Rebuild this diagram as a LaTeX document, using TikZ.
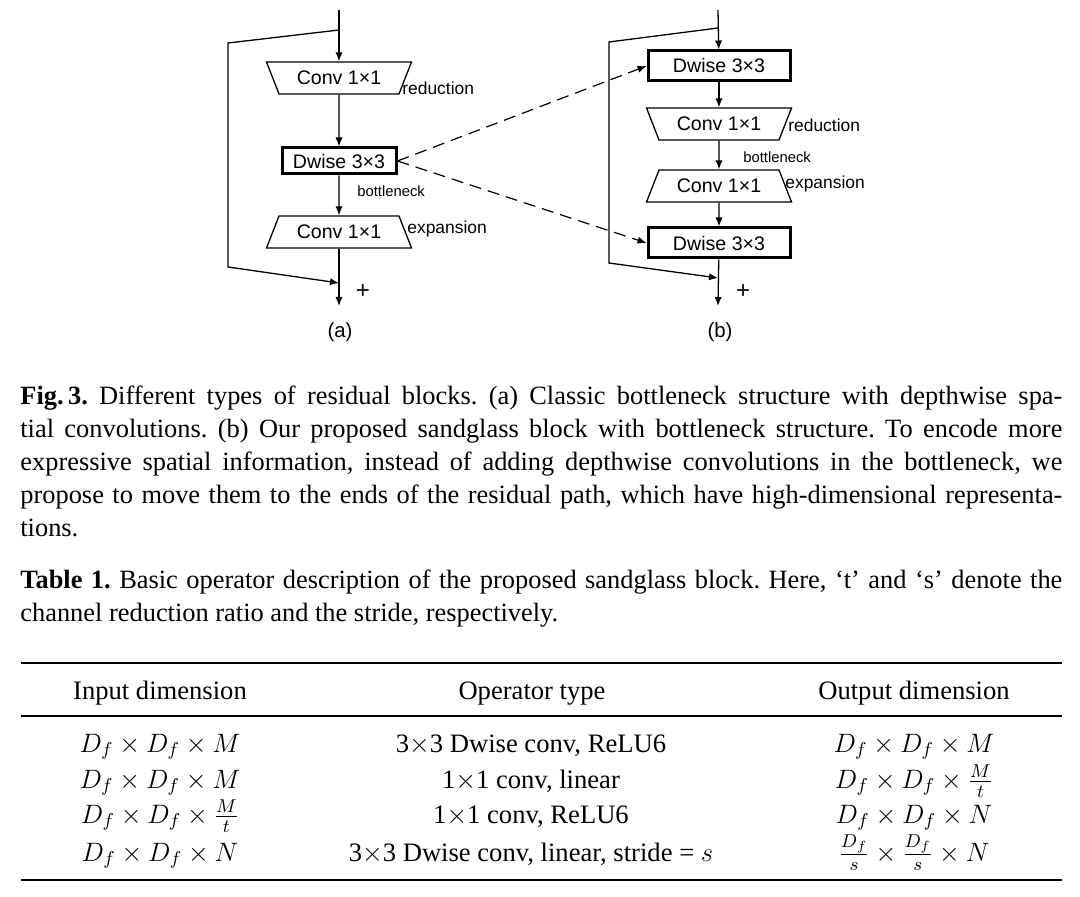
\documentclass[tikz,border=0pt]{standalone}
\usepackage{fix-cm}
\usepackage{fontspec}
\setmainfont{Liberation Serif}
\newfontfamily\diagfont{Liberation Sans}
\usetikzlibrary{arrows.meta,shapes.geometric}

\newcommand{\opfont}{\diagfont\fontsize{9.8}{11.5}\selectfont}
\newcommand{\tagfont}{\diagfont\fontsize{8.7}{10}\selectfont}
\newcommand{\neckfont}{\diagfont\fontsize{7.4}{8.5}\selectfont}
\newcommand{\captfont}{\fontsize{13.2}{16.5}\selectfont\frenchspacing}
\newcommand{\tabfont}{\fontsize{13.3}{16}\selectfont}

\begin{document}
\begin{tikzpicture}[x=0.5pt, y=-0.5pt,
    flow/.style={-{Latex[length=4.5pt,width=3.6pt]}, line width=0.65pt},
    link/.style={-{Latex[length=4.5pt,width=3.6pt]}, line width=0.6pt, dash pattern=on 6pt off 3.5pt},
    dwbox/.style={draw, line width=1.5pt, minimum width=#1, inner sep=0pt, font=\opfont},
    reduce/.style={trapezium, draw, line width=0.65pt, shape border rotate=180,
        trapezium angle=55, trapezium stretches body, minimum width=72.5pt,
        minimum height=16pt, inner sep=1pt, font=\opfont},
    expand/.style={reduce, shape border rotate=0},
    tag/.style={anchor=west, inner sep=0pt, font=\tagfont},
    plus/.style={font=\diagfont\fontsize{12}{14}\selectfont},
    capt/.style={anchor=north west, inner sep=0pt, text width=521pt, align=justify, font=\captfont},
    cell/.style={anchor=base, inner sep=0pt, font=\tabfont}]

    \useasboundingbox (0,0) rectangle (1080,897);

    % (a) classic bottleneck
    \coordinate (aIn) at (339,10);
    \coordinate (aSplit) at (339,30);
    \node[reduce] (aRed) at (339,78) {Conv 1×1};
    \node[dwbox=57pt, minimum height=13pt] (aDw) at (339,161) {Dwise 3×3};
    \node[expand] (aExp) at (339,232) {Conv 1×1};
    \coordinate (aJoin) at (339,283);
    \coordinate (aOut) at (339,306);
    \coordinate (aSkipT) at (228,43);
    \coordinate (aSkipB) at (228,267);

    \draw[flow] (aIn) -- (aRed);
    \draw[flow] (aRed) -- (aDw);
    \draw[flow] (aDw) -- (aExp);
    \draw[flow] (aExp) -- (aOut);
    \draw[flow] (aSplit) -- (aSkipT) -- (aSkipB) -- (aJoin);

    \node[tag] (aRedTag) at (402,88) {reduction};
    \node[tag] (aExpTag) at (407,229) {expansion};
    \node[tag, font=\neckfont] (aNeck) at (357,191) {bottleneck};
    \node[plus] (aPlus) at (363,292) {+};
    \node[font=\diagfont\fontsize{10.2}{12}\selectfont] (aCap) at (340,332) {(a)};

    % (b) sandglass block
    \coordinate (bIn) at (718,10);
    \coordinate (bSplit) at (718,28);
    \node[dwbox=71pt, minimum height=15pt] (bDwTop) at (719,66) {Dwise 3×3};
    \node[reduce] (bRed) at (719,124) {Conv 1×1};
    \node[expand] (bExp) at (719,186) {Conv 1×1};
    \node[dwbox=71pt, minimum height=15pt] (bDwBot) at (719,243) {Dwise 3×3};
    \coordinate (bJoin) at (718,278);
    \coordinate (bOut) at (718,306);
    \coordinate (bSkipT) at (609,42);
    \coordinate (bSkipB) at (609,263);

    \draw[flow] (bIn) -- (bDwTop);
    \draw[flow] (bDwTop) -- (bRed);
    \draw[flow] (bRed) -- (bExp);
    \draw[flow] (bExp) -- (bDwBot);
    \draw[flow] (bDwBot) -- (bOut);
    \draw[flow] (bSplit) -- (bSkipT) -- (bSkipB) -- (bJoin);

    \node[tag] (bRedTag) at (788,125) {reduction};
    \node[tag] (bExpTag) at (785,184) {expansion};
    \node[tag, font=\neckfont] (bNeck) at (743,157) {bottleneck};
    \node[plus] (bPlus) at (743,292) {+};
    \node[font=\diagfont\fontsize{10.2}{12}\selectfont] (bCap) at (720,332) {(b)};

    % moved depthwise convs
    \draw[link] (aDw.east) -- (bDwTop.west);
    \draw[link] (aDw.east) -- (bDwBot.west);

    % captions
    \node[capt] (figCap) at (20,386) {\textbf{Fig.\,3.} Different types of residual blocks. (a) Classic bottleneck structure with depthwise spa-\linebreak tial convolutions. (b) Our proposed sandglass block with bottleneck structure. To encode more\linebreak expressive spatial information, instead of adding depthwise convolutions in the bottleneck, we\linebreak propose to move them to the ends of the residual path, which have high-dimensional representa-\linebreak tions.};
    \node[capt] (tabCap) at (20,570) {\textbf{Table 1.} Basic operator description of the proposed sandglass block. Here, `t' and `s' denote the\linebreak channel reduction ratio and the stride, respectively.};

    % table
    \foreach \y in {663,716,880}
        \draw[line width=0.9pt] (21,\y) -- (1062,\y);

    \node[cell] (hIn) at (160,699) {Input dimension};
    \node[cell] (hOp) at (532,699) {Operator type};
    \node[cell] (hOut) at (914,699) {Output dimension};

    \foreach \y/\inp/\op/\outp [count=\r] in {
        752/{$D_f\times D_f\times M$}/{3$\times$3 Dwise conv, ReLU6}/{$D_f\times D_f\times M$},
        788/{$D_f\times D_f\times M$}/{1$\times$1 conv, linear}/{$D_f\times D_f\times \frac{M}{t}$},
        823/{$D_f\times D_f\times \frac{M}{t}$}/{1$\times$1 conv, ReLU6}/{$D_f\times D_f\times N$},
        861/{$D_f\times D_f\times N$}/{3$\times$3 Dwise conv, linear, stride = $s$}/{$\frac{D_f}{s}\times \frac{D_f}{s}\times N$}} {
        \node[cell] (in\r) at (160,\y) {\inp};
        \node[cell] (op\r) at (531,\y) {\op};
        \node[cell] (out\r) at (914,\y) {\outp};
    }
\end{tikzpicture}
\end{document}
